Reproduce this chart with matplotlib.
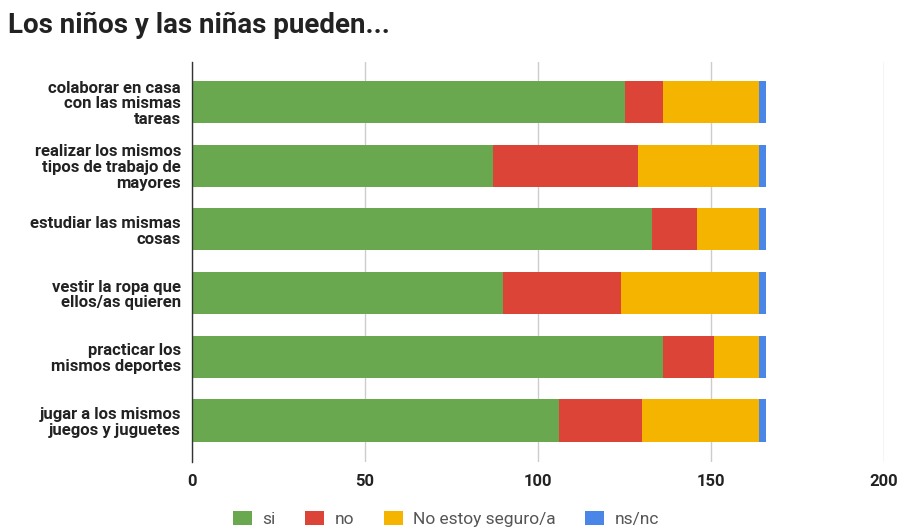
import matplotlib
matplotlib.use("Agg")
import matplotlib.pyplot as plt
from matplotlib.patches import Patch

plt.rcParams['font.family'] = ['Roboto', 'DejaVu Sans']

categories = [
    "colaborar en casa\ncon las mismas\ntareas",
    "realizar los mismos\ntipos de trabajo de\nmayores",
    "estudiar las mismas\ncosas",
    "vestir la ropa que\nellos/as quieren",
    "practicar los\nmismos deportes",
    "jugar a los mismos\njuegos y juguetes",
]
series_names = ["si", "no", "No estoy seguro/a", "ns/nc"]
si = [125, 87, 133, 90, 136, 106]
no = [11, 42, 13, 34, 15, 24]
no_seguro = [28, 35, 18, 40, 13, 34]
nsnc = [2, 2, 2, 2, 2, 2]
xticks = [0, 50, 100, 150, 200]

colors = ["#6aa84f", "#db4437", "#f4b400", "#4a86e8"]

fig = plt.figure(figsize=(9, 5.3), dpi=100)
ax = fig.add_axes([192/900, 1 - 462/530, (884 - 192)/900, (462 - 62)/530])

y = list(range(len(categories)))
left = [0] * len(categories)
for vals, col, name in zip([si, no, no_seguro, nsnc], colors, series_names):
    ax.barh(y, vals, left=left, color=col, height=0.66, label=name, zorder=3)
    left = [a + b for a, b in zip(left, vals)]

ax.set_xlim(0, 200)
ax.set_ylim(5 + (462 - 420.5) / 63.7, -(102 - 62) / 63.7)
ax.set_xticks(xticks)
ax.set_xticklabels([str(t) for t in xticks])
ax.set_yticks(y)
ax.set_yticklabels(categories, fontsize=12, fontweight='bold', color='#222222',
                   linespacing=1.05)
ax.tick_params(axis='y', length=0, pad=8)
ax.tick_params(axis='x', length=0, pad=9, labelsize=12, labelcolor='#222222')
for lbl in ax.get_xticklabels():
    lbl.set_fontweight('bold')
ax.grid(axis='x', color='#cccccc', linewidth=1, zorder=0)
for s in ['top', 'right', 'bottom']:
    ax.spines[s].set_visible(False)
ax.spines['left'].set_color('#333333')
ax.spines['left'].set_linewidth(1)
ax.spines['left'].set_zorder(4)

fig.text(8/900, 1 - 25/530, "Los niños y las niñas pueden...", fontsize=20,
         fontweight='bold', color='#222222', va='center', ha='left')

handles = [Patch(facecolor=c, edgecolor='none') for c in colors]
leg = fig.legend(handles, series_names, loc='center', bbox_to_anchor=(446/900, 1 - 519/530),
                 ncol=4, frameon=False, fontsize=12.5, handlelength=1.1, handleheight=0.9,
                 handletextpad=0.6, columnspacing=1.7)
for t in leg.get_texts():
    t.set_color('#555555')

fig.savefig("out.png", dpi=100)
